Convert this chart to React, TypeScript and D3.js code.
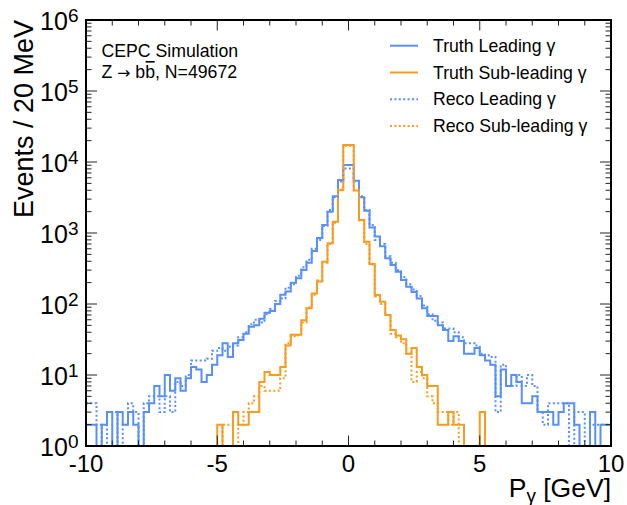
import React, { useEffect, useRef, useState } from 'react';
import * as d3 from 'd3';

// ---------------- data ----------------
const X_MIN = -10;
const X_MAX = 10;
const N_BINS = 100;

const truthLeading = [
  2, 2, 1, 2, 3, 1, 3, 2, 3, 2,
  1, 3, 4, 7, 5, 10, 6, 9, 6, 9,
  13, 12, 8, 10, 14, 19, 28, 18, 28, 31,
  38, 48, 50, 62, 75, 80, 100, 135, 150, 200,
  230, 300, 380, 560, 850, 1300, 2000, 3300, 5600, 9100,
  9100, 5450, 3200, 2050, 1200, 890, 650, 440, 355, 285,
  218, 175, 148, 120, 87, 68, 68, 50, 43, 30,
  35, 30, 20, 20, 24, 19, 16, 14, 5, 12,
  7, 10, 8, 4, 4, 5, 3, 3, 3, 2,
  3, 4, 4, 2, 1, 1, 3, 1, 2, 2,
];

const truthSubleading = [
  0, 0, 0, 0, 0, 0, 0, 0, 0, 0,
  0, 0, 0, 0, 0, 0, 0, 0, 0, 0,
  0, 0, 0, 0, 0, 2, 0, 0, 3, 2,
  2, 3, 3, 8, 11, 10, 10, 13, 26, 37,
  37, 59, 87, 141, 207, 395, 720, 1440, 4000, 17400,
  17400, 3960, 1520, 755, 366, 134, 108, 70, 43, 36,
  32, 20, 24, 13, 10, 7, 7, 2, 2, 3,
  2, 2, 0, 0, 0, 3, 0, 0, 0, 0,
  0, 0, 0, 0, 0, 0, 0, 0, 0, 0,
  0, 0, 0, 0, 0, 0, 0, 0, 0, 0,
];

const recoLeading = [
  4, 4, 2, 1, 3, 3, 1, 2, 4, 3,
  1, 4, 5, 5, 3, 5, 3, 8, 7, 10,
  16, 16, 16, 17, 22, 24, 22, 25, 26, 34,
  40, 52, 60, 55, 72, 85, 110, 120, 170, 190,
  250, 330, 420, 600, 800, 1250, 2100, 3200, 5300, 8100,
  8100, 5300, 3300, 2100, 1300, 800, 700, 470, 380, 300,
  240, 190, 160, 130, 95, 72, 58, 55, 45, 45,
  40, 34, 28, 28, 26, 20, 19, 18, 3, 14,
  7, 7, 10, 7, 10, 7, 3, 2, 4, 4,
  4, 4, 1, 3, 3, 1, 2, 2, 2, 2,
];

const recoSubleading = [
  0, 0, 0, 0, 0, 0, 0, 0, 0, 0,
  0, 0, 0, 0, 0, 0, 0, 0, 0, 0,
  0, 0, 0, 0, 0, 1, 2, 2, 1, 2,
  3, 4, 5, 7, 6, 6, 6, 9, 28, 35,
  36, 55, 90, 135, 215, 380, 700, 1400, 4100, 17000,
  17000, 4000, 1500, 700, 360, 128, 100, 70, 38, 34,
  28, 20, 8, 11, 9, 5, 4, 3, 3, 2,
  3, 0, 0, 0, 0, 0, 0, 0, 0, 0,
  0, 0, 0, 0, 0, 0, 0, 0, 0, 0,
  0, 0, 0, 0, 0, 0, 0, 0, 0, 0,
];

const xMajorTicks = [-10, -5, 0, 5, 10];
const xMinorTicks = [-9, -8, -7, -6, -4, -3, -2, -1, 1, 2, 3, 4, 6, 7, 8, 9];
const yDecades = [0, 1, 2, 3, 4, 5, 6];

const legendLabels = ['Truth Leading γ', 'Truth Sub-leading γ', 'Reco Leading γ', 'Reco Sub-leading γ'];

// ---------------- style ----------------
const W = 627;
const H = 505;
const M = { left: 86, right: 611, top: 20, bottom: 446 };
const BLUE = '#5790fc';
const ORANGE = '#f89c20';
const FONT = '"Liberation Sans", Arial, Helvetica, sans-serif';
const DOTS = '2 2.4';

const series = [
  { values: truthLeading, color: BLUE, dash: null },
  { values: truthSubleading, color: ORANGE, dash: null },
  { values: recoLeading, color: BLUE, dash: DOTS },
  { values: recoSubleading, color: ORANGE, dash: DOTS },
];

export default function App() {
  const x = d3.scaleLinear().domain([X_MIN, X_MAX]).range([M.left, M.right]);
  const y = d3.scaleLog().domain([1, 1e6]).range([M.bottom, M.top]);
  const binW = (X_MAX - X_MIN) / N_BINS;

  const stepPath = (vals: number[]) => {
    const pts: [number, number][] = vals.map((v, i) => [x(X_MIN + i * binW), y(Math.max(v, 1))]);
    pts.push([x(X_MAX), y(Math.max(vals[vals.length - 1], 1))]);
    return d3.line().curve(d3.curveStepAfter)(pts) || '';
  };

  const yMinor: number[] = [];
  for (let d = 0; d < 6; d++) for (let m = 2; m <= 9; m++) yMinor.push(m * Math.pow(10, d));

  const procRef = useRef<SVGTextElement | null>(null);
  const [bar, setBar] = useState<{ x1: number; x2: number; y: number } | null>(null);
  useEffect(() => {
    const el = procRef.current;
    if (!el) return;
    try {
      const s = el.getStartPositionOfChar(5);
      const e = el.getEndPositionOfChar(5);
      setBar({ x1: s.x + 0.5, x2: e.x - 0.3, y: s.y - 16.5 });
    } catch (err) {
      /* ignore */
    }
  }, []);

  const legendX1 = 390;
  const legendX2 = 418;
  const legendY0 = 45.7;
  const legendDy = 26.8;
  const TXT = 17.7;

  return (
    <svg width={W} height={H} style={{ position: 'absolute', left: 0, top: 0, background: '#fff' }} fontFamily={FONT}>
      <defs>
        <clipPath id="plotclip">
          <rect x={M.left} y={M.top} width={M.right - M.left} height={M.bottom - M.top} />
        </clipPath>
      </defs>
      <rect x={0} y={0} width={W} height={H} fill="#fff" />

      {/* histograms */}
      <g clipPath="url(#plotclip)">
        {series.map((s, i) => (
          <path
            key={i}
            d={stepPath(s.values)}
            fill="none"
            stroke={s.color}
            strokeWidth={2}
            strokeDasharray={s.dash || undefined}
          />
        ))}
      </g>

      {/* ticks */}
      <g stroke="#222" strokeWidth={1}>
        {xMajorTicks.map((t) => (
          <g key={'xM' + t}>
            <line x1={x(t)} x2={x(t)} y1={M.bottom} y2={M.bottom - 10.5} />
            <line x1={x(t)} x2={x(t)} y1={M.top} y2={M.top + 10.5} />
          </g>
        ))}
        {xMinorTicks.map((t) => (
          <g key={'xm' + t}>
            <line x1={x(t)} x2={x(t)} y1={M.bottom} y2={M.bottom - 5.5} />
            <line x1={x(t)} x2={x(t)} y1={M.top} y2={M.top + 5.5} />
          </g>
        ))}
        {yDecades.map((d) => (
          <g key={'yM' + d}>
            <line x1={M.left} x2={M.left + 11} y1={y(Math.pow(10, d))} y2={y(Math.pow(10, d))} />
            <line x1={M.right} x2={M.right - 11} y1={y(Math.pow(10, d))} y2={y(Math.pow(10, d))} />
          </g>
        ))}
        {yMinor.map((v) => (
          <g key={'ym' + v}>
            <line x1={M.left} x2={M.left + 5.5} y1={y(v)} y2={y(v)} />
            <line x1={M.right} x2={M.right - 5.5} y1={y(v)} y2={y(v)} />
          </g>
        ))}
      </g>

      {/* frame */}
      <rect
        x={M.left}
        y={M.top}
        width={M.right - M.left}
        height={M.bottom - M.top}
        fill="none"
        stroke="#000"
        strokeWidth={2}
      />

      {/* y tick labels */}
      {yDecades.map((d) => (
        <text key={'yl' + d} x={78.5} y={y(Math.pow(10, d)) + 9.5} textAnchor="end" fontSize={25} fill="#000">
          10
          <tspan dy={-8} fontSize={19}>
            {d}
          </tspan>
        </text>
      ))}

      {/* x tick labels */}
      {xMajorTicks.map((t) => (
        <text key={'xl' + t} x={x(t)} y={471.5} textAnchor="middle" fontSize={24} fill="#000">
          {t}
        </text>
      ))}

      {/* axis titles */}
      <text transform={`translate(33,${M.top}) rotate(-90)`} textAnchor="end" fontSize={27} fill="#000">
        Events / 20 MeV
      </text>
      <text x={M.right} y={497} textAnchor="end" fontSize={26.5} fill="#000">
        P
        <tspan dy={4.5} fontSize={19}>
          γ
        </tspan>
        <tspan dy={-4.5}> [GeV]</tspan>
      </text>

      {/* annotation */}
      <text x={101.5} y={57.3} fontSize={TXT} fill="#000">
        CEPC Simulation
      </text>
      <text ref={procRef} x={101.5} y={78.3} fontSize={TXT} fill="#000">
        Z{' '}
        <tspan fontFamily='"DejaVu Sans", sans-serif' fontSize={TXT - 2}>
          →
        </tspan>{' '}
        bb, N=49672
      </text>
      {bar && <line x1={bar.x1} x2={bar.x2} y1={bar.y} y2={bar.y} stroke="#000" strokeWidth={1.6} />}

      {/* legend */}
      {series.map((s, i) => (
        <g key={'lg' + i}>
          <line
            x1={legendX1}
            x2={legendX2}
            y1={legendY0 + i * legendDy}
            y2={legendY0 + i * legendDy}
            stroke={s.color}
            strokeWidth={2}
            strokeDasharray={s.dash || undefined}
          />
          <text x={433} y={legendY0 + i * legendDy + 6} fontSize={TXT} fill="#000">
            {legendLabels[i]}
          </text>
        </g>
      ))}
    </svg>
  );
}
